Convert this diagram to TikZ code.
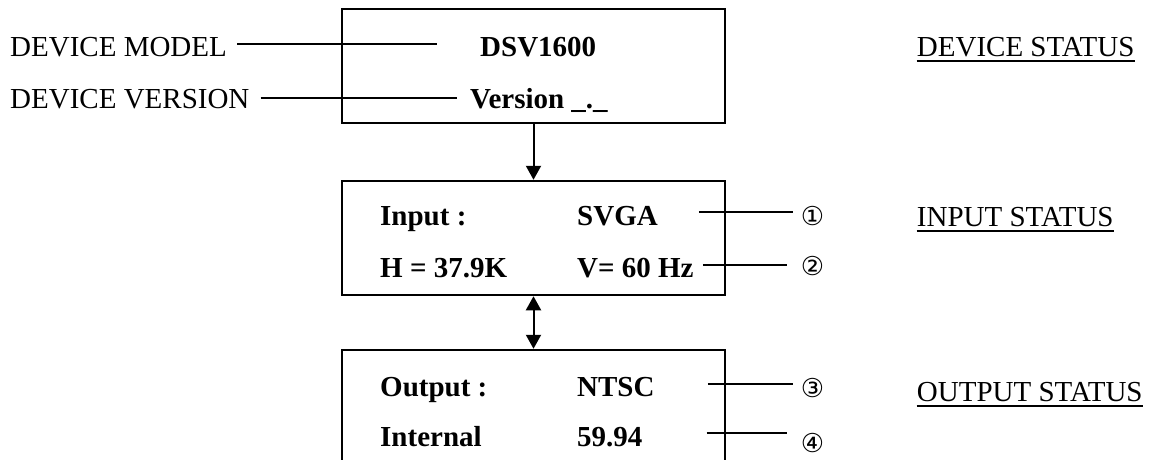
\documentclass[tikz,border=0pt]{standalone}
\usepackage{fontspec}
\setmainfont{Liberation Serif}
\newfontfamily\circfont{DejaVu Sans}
\usetikzlibrary{arrows.meta}
\begin{document}
\begin{tikzpicture}[x=1pt,y=-1pt,
  lbl/.style={anchor=base west, inner sep=0pt, font=\fontsize{29}{30}\selectfont},
  btxt/.style={anchor=base west, inner sep=0pt, font=\fontsize{29}{30}\selectfont\bfseries},
  panel/.style={draw, line width=2.5pt, minimum width=383pt, minimum height=114pt, inner sep=0pt},
  leader/.style={line width=2pt},
  circnum/.style={inner sep=0pt, font=\circfont\fontsize{26}{26}\selectfont},
  flow/.style={line width=2pt, -{Triangle[length=14pt,width=15pt]}},
  flowboth/.style={line width=2pt, {Triangle[length=14pt,width=15pt]}-{Triangle[length=14pt,width=15pt]}},
  uline/.style={line width=1.6pt}
]
\useasboundingbox (0,0) rectangle (1154,459);

% panels
\node[panel] (b1) at (533.5,66) {};
\node[panel] (b2) at (533.5,238) {};
\node[panel] (b3) at (533.5,407) {};

% left labels
\node[lbl] (dm) at (10,56.7) {DEVICE MODEL};
\node[lbl] (dv) at (10,108) {DEVICE VERSION};

% panel 1 text
\node[btxt] (dsv) at (480,56.7) {DSV1600};
\node[btxt] (ver) at (470,108) {Version \_.\_};

% panel 2 text
\node[btxt] (inp) at (380,225) {Input :};
\node[btxt] (svga) at (577,225) {SVGA};
\node[btxt] (hf) at (380,277) {H = 37.9K};
\node[btxt] (vf) at (577,277) {V= 60 Hz};

% panel 3 text
\node[btxt] (outp) at (380,396.7) {Output :};
\node[btxt] (ntsc) at (577,396.7) {NTSC};
\node[btxt] (intl) at (380,446.7) {Internal};
\node[btxt] (rate) at (577,446.7) {59.94};

% circled numbers
\node[circnum] (c1) at (812.5,216) {①};
\node[circnum] (c2) at (812.5,266.5) {②};
\node[circnum] (c3) at (812.5,388) {③};
\node[circnum] (c4) at (812.5,443) {④};

% right headings
\node[lbl] (ds) at (916.7,56.7) {DEVICE STATUS};
\node[lbl] (is) at (916.7,226.7) {INPUT STATUS};
\node[lbl] (os) at (916.7,401.7) {OUTPUT STATUS};
\draw[uline] ([yshift=-4.5pt]ds.base west) -- ([yshift=-4.5pt]ds.base east);
\draw[uline] ([yshift=-4.5pt]is.base west) -- ([yshift=-4.5pt]is.base east);
\draw[uline] ([yshift=-4.5pt]os.base west) -- ([yshift=-4.5pt]os.base east);

% leaders left
\draw[leader] ([xshift=10pt]dm.base east |- 0,44) -- ([xshift=-43pt]dsv.base west |- 0,44);
\draw[leader] ([xshift=11pt]dv.base east |- 0,98.3) -- ([xshift=-13pt]ver.base west |- 0,98.3);

% leaders right
\draw[leader] ([xshift=41pt]svga.base east |- 0,212) -- ([xshift=-19.8pt]c1.center |- 0,212);
\draw[leader] ([xshift=9pt]vf.base east |- 0,265) -- ([xshift=-25.8pt]c2.center |- 0,265);
\draw[leader] ([xshift=53pt]ntsc.base east |- 0,384) -- ([xshift=-19.8pt]c3.center |- 0,384);
\draw[leader] ([xshift=64pt]rate.base east |- 0,433) -- ([xshift=-25.8pt]c4.center |- 0,433);

% flow arrows
\draw[flow] (b1.south) -- (b2.north);
\draw[flowboth] (b2.south) -- (b3.north);
\end{tikzpicture}
\end{document}
